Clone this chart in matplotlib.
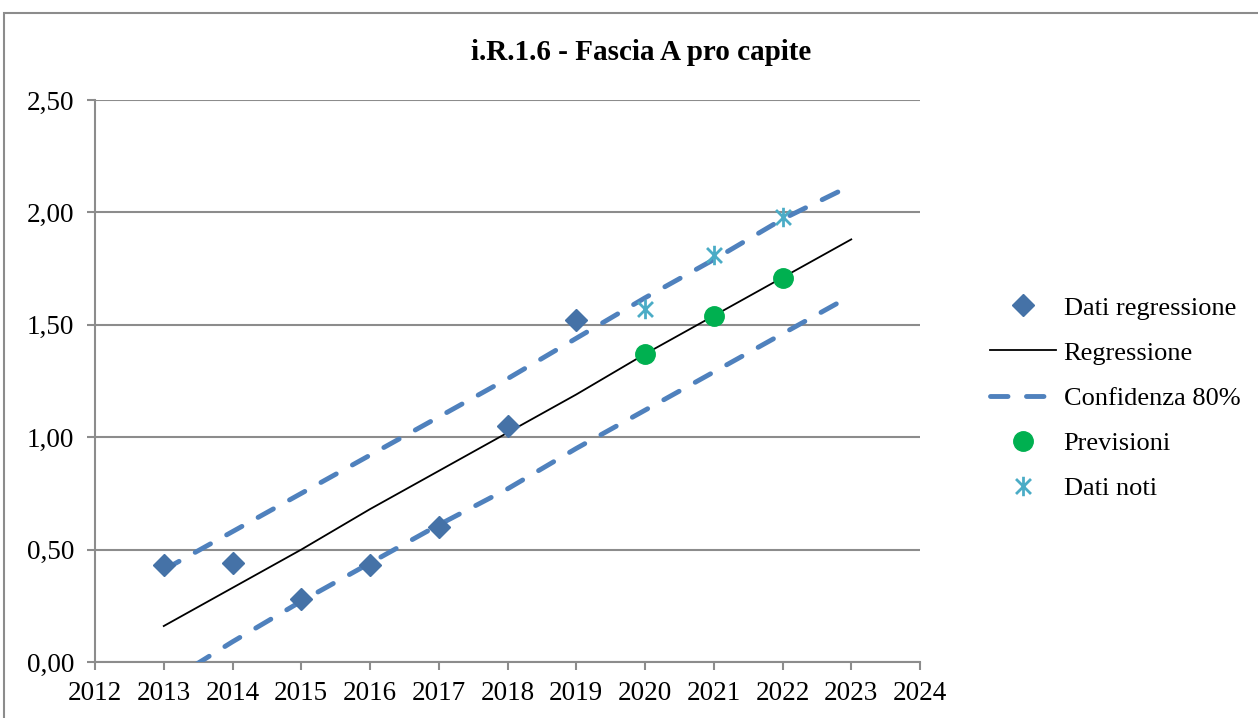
import matplotlib.pyplot as plt
from matplotlib.path import Path
from matplotlib.patches import Rectangle
from matplotlib.ticker import FuncFormatter

plt.rcParams['font.family'] = ['Liberation Serif', 'DejaVu Serif']

# data
anni_reg = [2013, 2014, 2015, 2016, 2017, 2018, 2019]
dati_reg = [0.43, 0.44, 0.28, 0.43, 0.60, 1.05, 1.52]

anni_linea = [2013, 2014, 2015, 2016, 2017, 2018, 2019, 2020, 2021, 2022, 2023]
regressione = [0.16, 0.33, 0.50, 0.68, 0.85, 1.02, 1.19, 1.37, 1.54, 1.71, 1.88]
conf_sup = [0.41, 0.58, 0.75, 0.92, 1.09, 1.26, 1.44, 1.62, 1.79, 1.97, 2.12]
conf_inf = [-0.10, 0.09, 0.27, 0.44, 0.61, 0.77, 0.95, 1.12, 1.29, 1.46, 1.63]

anni_prev = [2020, 2021, 2022]
previsioni = [1.37, 1.54, 1.71]
dati_noti = [1.57, 1.81, 1.98]

# asterisk marker: X plus vertical bar
star = Path([(-1, -1), (1, 1), (-1, 1), (1, -1), (0, -1.3), (0, 1.3)],
            [Path.MOVETO, Path.LINETO, Path.MOVETO, Path.LINETO, Path.MOVETO, Path.LINETO])

fig = plt.figure(figsize=(12.58, 7.18), dpi=100)
fig.patches.append(Rectangle((4 / 1258, -0.1), 1.2, 1.1 - 13 / 718, transform=fig.transFigure,
                             fill=False, edgecolor='#8c8c8c', linewidth=1.5))
ax = fig.add_axes([95 / 1258, 1 - 662 / 718, 825 / 1258, 562 / 718])

ax.plot(anni_reg, dati_reg, linestyle='none', marker='D', ms=11, color='#4572A7',
        label='Dati regressione', zorder=4)
ax.plot(anni_linea, regressione, color='black', lw=1.3, label='Regressione', zorder=3)
ax.plot(anni_linea, conf_sup, color='#4F81BD', lw=3.5, dashes=(3.6, 3.8),
        dash_capstyle='round', label='Confidenza 80%', zorder=3)
ax.plot(anni_linea, conf_inf, color='#4F81BD', lw=3.5, dashes=(3.6, 3.8),
        dash_capstyle='round', zorder=3)
ax.plot(anni_prev, previsioni, linestyle='none', marker='o', ms=14, color='#00B050',
        label='Previsioni', zorder=5)
ax.plot(anni_prev, dati_noti, linestyle='none', marker=star, ms=14, mew=2,
        color='#4BACC6', label='Dati noti', zorder=5)

ax.set_xlim(2012, 2024)
ax.set_ylim(0, 2.5)
ax.set_xticks(range(2012, 2025))
ax.set_yticks([0, 0.5, 1.0, 1.5, 2.0, 2.5])
ax.yaxis.set_major_formatter(FuncFormatter(lambda v, p: f'{v:.2f}'.replace('.', ',')))
ax.grid(axis='y', color='#8c8c8c', lw=1.5)
ax.set_axisbelow(True)
for s in ['top', 'right']:
    ax.spines[s].set_visible(False)
for s in ['left', 'bottom']:
    ax.spines[s].set_color('#8c8c8c')
    ax.spines[s].set_linewidth(1.5)
ax.tick_params(axis='x', length=6, width=1.5, color='#8c8c8c', labelsize=19.5, pad=8)
ax.tick_params(axis='y', length=6, width=1.5, color='#8c8c8c', labelsize=19.5, pad=9)

fig.text(0.5095, 1 - 52 / 718, 'i.R.1.6 - Fascia A pro capite', ha='center', va='center',
         fontsize=21, fontweight='bold')

fig.legend(loc='center left', bbox_to_anchor=(966 / 1258, 1 - 398 / 718), frameon=False,
           fontsize=19, handlelength=2.5, labelspacing=0.82, handletextpad=0.3)

fig.savefig('out.png', dpi=100)
